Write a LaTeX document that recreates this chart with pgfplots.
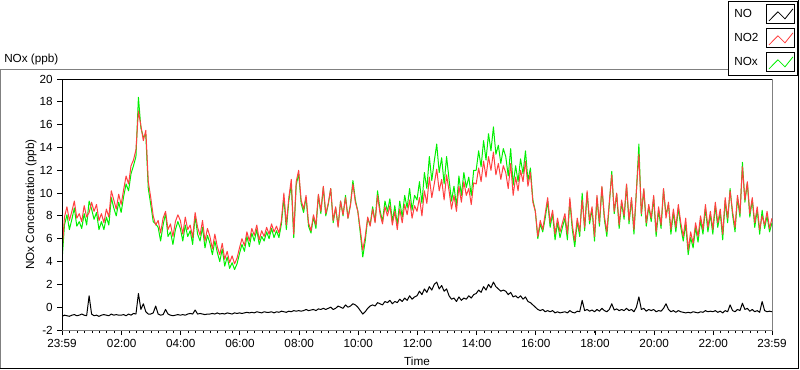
\documentclass[border=0pt]{standalone}
\usepackage{fontspec}
\setmainfont{Liberation Sans}
\usepackage{pgfplots}
\pgfplotsset{compat=1.18}
\usepackage{pgfplotstable}
\definecolor{nored}{RGB}{255,64,64}
\definecolor{nogreen}{RGB}{0,240,0}
\definecolor{framegray}{RGB}{128,128,128}
\pgfplotstableread{
t NO NO2 NOx
0 -0.8 4.8 4.0
5 -0.7 7.9 7.2
10 -0.75 8.8 8.1
15 -0.8 7.6 6.8
20 -0.7 8.4 7.7
25 -0.65 9.3 8.7
30 -0.75 7.8 7.1
35 -0.7 8.2 7.5
40 -0.6 7.5 6.9
45 -0.7 8.9 8.2
50 -0.75 7.9 7.2
55 1.0 8.3 9.3
60 -0.6 9.2 8.6
65 -0.75 8.4 7.7
70 -0.7 9.0 8.3
75 -0.8 7.6 6.8
80 -0.7 8.2 7.5
85 -0.65 7.4 6.8
90 -0.7 8.6 7.9
95 -0.75 7.9 7.2
100 -0.6 10.2 9.6
105 -0.7 9.4 8.7
110 -0.65 8.6 8.0
115 -0.7 9.9 9.2
120 -0.7 9.0 8.3
125 -0.65 10.3 9.7
130 -0.75 11.5 10.8
135 -0.6 10.8 10.2
140 -0.7 12.4 11.7
145 -0.55 12.9 12.4
150 -0.6 13.8 13.2
155 1.2 17.2 18.4
160 -0.2 15.9 15.7
165 0.3 14.6 14.9
170 -0.4 15.5 15.1
175 -0.6 11.0 10.4
180 -0.6 9.6 9.0
185 -0.5 8.0 7.5
190 0.1 7.2 7.3
195 -0.6 7.6 7.0
200 -0.7 6.5 5.8
205 -0.65 7.8 7.2
210 -0.2 8.4 8.2
215 -0.6 6.8 6.2
220 -0.7 7.3 6.6
225 -0.75 6.2 5.5
230 -0.7 7.5 6.8
235 -0.65 8.1 7.5
240 -0.7 7.6 6.9
245 -0.65 6.4 5.8
250 -0.7 7.9 7.2
255 -0.6 6.8 6.2
260 -0.55 7.2 6.7
265 -0.6 6.1 5.5
270 -0.25 8.3 8.0
275 -0.6 7.0 6.4
280 -0.55 6.3 5.8
285 -0.6 7.6 7.0
290 -0.65 5.8 5.2
295 -0.6 6.9 6.3
300 -0.6 6.2 5.6
305 -0.55 5.1 4.6
310 -0.6 6.4 5.8
315 -0.5 5.3 4.8
320 -0.6 4.6 4.0
325 -0.55 5.6 5.1
330 -0.6 4.2 3.6
335 -0.5 4.9 4.4
340 -0.55 3.9 3.4
345 -0.6 4.5 3.9
350 -0.5 3.8 3.3
355 -0.55 4.3 3.8
360 -0.5 5.2 4.7
365 -0.55 6.0 5.5
370 -0.5 5.4 4.9
375 -0.45 6.6 6.2
380 -0.5 5.8 5.3
385 -0.45 6.9 6.5
390 -0.5 6.3 5.8
395 -0.4 7.2 6.8
400 -0.45 5.9 5.5
405 -0.5 6.7 6.2
410 -0.4 6.2 5.8
415 -0.45 7.0 6.6
420 -0.45 6.4 6.0
425 -0.4 7.3 6.9
430 -0.5 6.6 6.1
435 -0.4 7.1 6.7
440 -0.45 6.5 6.1
445 -0.35 7.6 7.3
450 -0.4 10.0 9.6
455 -0.45 7.2 6.8
460 -0.35 9.6 9.3
465 -0.4 11.2 10.8
470 -0.3 6.4 6.1
475 -0.35 11.0 10.7
480 -0.3 12.0 11.7
485 -0.35 9.4 9.1
490 -0.3 8.6 8.3
495 -0.2 9.8 9.6
500 -0.3 7.4 7.1
505 -0.25 6.7 6.5
510 -0.2 8.1 7.9
515 -0.3 7.2 6.9
520 -0.15 9.9 9.8
525 -0.2 8.4 8.2
530 -0.1 10.6 10.5
535 -0.2 8.2 8.0
540 -0.1 9.1 9.0
545 0.0 10.4 10.4
550 -0.2 7.6 7.4
555 -0.1 8.8 8.7
560 0.1 7.0 7.1
565 0.0 9.3 9.3
570 -0.1 8.1 8.0
575 0.2 9.6 9.8
580 0.0 7.8 7.8
585 0.1 8.9 9.0
590 0.3 10.8 11.1
595 0.2 9.2 9.4
600 0.0 8.4 8.4
605 -0.3 6.8 6.5
610 -0.6 5.0 4.4
615 -0.4 6.2 5.8
620 -0.1 7.9 7.8
625 0.1 7.1 7.2
630 0.2 8.6 8.8
635 0.1 7.4 7.5
640 0.4 9.8 10.2
645 0.3 8.2 8.5
650 0.2 7.3 7.5
655 0.5 8.8 9.3
660 0.4 8.0 8.4
665 0.6 8.9 9.5
670 0.3 7.2 7.5
675 0.5 8.4 8.9
680 0.4 6.8 7.2
685 0.7 8.6 9.3
690 0.5 7.4 7.9
695 0.8 9.0 9.8
700 0.6 8.1 8.7
705 1.0 9.4 10.4
710 0.7 7.8 8.5
715 0.9 8.9 9.8
720 1.0 8.4 9.4
725 1.4 9.6 11.0
730 1.1 8.0 9.1
735 1.6 10.2 11.8
740 1.3 9.1 10.4
745 1.8 11.4 13.2
750 1.5 9.6 11.1
755 2.0 10.8 12.8
760 2.2 12.1 14.3
765 1.6 10.2 11.8
770 1.9 11.2 13.1
775 1.4 9.4 10.8
780 1.6 11.6 13.2
785 1.0 10.2 11.2
790 0.7 8.6 9.3
795 0.8 9.8 10.6
800 0.5 8.4 8.9
805 0.9 10.6 11.5
810 0.6 9.2 9.8
815 0.8 11.0 11.8
820 0.7 9.8 10.5
825 1.0 10.4 11.4
830 0.8 9.0 9.8
835 1.1 10.9 12.0
840 1.2 10.8 12.0
845 1.5 12.2 13.7
850 1.3 11.0 12.3
855 1.8 12.8 14.6
860 1.5 11.4 12.9
865 2.0 13.2 15.2
870 1.7 12.0 13.7
875 2.2 13.6 15.8
880 1.8 11.6 13.4
885 1.6 12.6 14.2
890 1.4 11.2 12.6
895 1.5 12.4 13.9
900 1.4 11.8 13.2
905 1.1 10.4 11.5
910 1.3 12.6 13.9
915 0.9 9.8 10.7
920 1.0 11.4 12.4
925 0.8 10.2 11.0
930 1.0 12.0 13.0
935 0.7 11.0 11.7
940 0.9 12.8 13.7
945 0.5 10.6 11.1
950 0.4 11.8 12.2
955 0.2 9.2 9.4
960 0.0 8.4 8.4
965 -0.2 6.2 6.0
970 -0.3 7.6 7.3
975 -0.2 6.8 6.6
980 -0.4 8.2 7.8
985 -0.3 9.6 9.3
990 -0.4 7.4 7.0
995 -0.3 8.5 8.2
1000 -0.5 6.4 5.9
1005 -0.4 7.8 7.4
1010 -0.5 6.6 6.1
1015 -0.45 7.4 7.0
1020 -0.4 8.2 7.8
1025 -0.5 6.4 5.9
1030 -0.3 9.6 9.3
1035 -0.45 7.2 6.8
1040 -0.5 5.8 5.3
1045 -0.35 7.8 7.5
1050 -0.4 6.6 6.2
1055 0.6 9.4 10.0
1060 -0.3 7.0 6.7
1065 -0.2 10.2 10.0
1070 -0.35 7.6 7.3
1075 -0.25 8.8 8.6
1080 -0.4 6.2 5.8
1085 -0.2 9.8 9.6
1090 -0.35 7.4 7.1
1095 -0.1 10.6 10.5
1100 -0.3 8.0 7.7
1105 -0.4 6.6 6.2
1110 -0.2 9.2 9.0
1115 0.3 11.6 11.9
1120 -0.25 8.4 8.2
1125 -0.15 10.0 9.9
1130 -0.3 7.2 6.9
1135 -0.2 9.4 9.2
1140 -0.3 8.0 7.7
1145 -0.1 10.8 10.7
1150 -0.3 7.6 7.3
1155 -0.2 9.6 9.4
1160 -0.4 6.8 6.4
1165 0.0 10.2 10.2
1170 0.9 13.4 14.3
1175 -0.2 8.2 8.0
1180 -0.1 10.4 10.3
1185 -0.35 7.4 7.1
1190 -0.2 9.0 8.8
1195 -0.3 7.8 7.5
1200 -0.2 9.8 9.6
1205 -0.4 6.6 6.2
1210 -0.3 8.8 8.5
1215 -0.35 7.2 6.9
1220 -0.1 10.4 10.3
1225 0.3 7.8 8.1
1230 -0.2 9.2 9.0
1235 -0.4 6.8 6.4
1240 -0.3 8.6 8.3
1245 -0.45 7.0 6.6
1250 -0.3 9.0 8.7
1255 -0.4 7.4 7.0
1260 -0.45 6.2 5.8
1265 -0.5 7.8 7.3
1270 -0.45 5.0 4.6
1275 -0.5 6.6 6.1
1280 -0.4 5.6 5.2
1285 -0.45 7.4 7.0
1290 -0.5 6.2 5.7
1295 -0.4 8.0 7.6
1300 -0.45 6.8 6.4
1305 -0.3 9.0 8.7
1310 -0.4 7.0 6.6
1315 -0.35 8.4 8.1
1320 -0.4 6.8 6.4
1325 -0.3 9.2 8.9
1330 -0.45 7.4 7.0
1335 -0.35 8.6 8.3
1340 -0.5 6.4 5.9
1345 -0.3 9.6 9.3
1350 -0.4 7.8 7.4
1355 0.2 10.2 10.4
1360 -0.3 8.4 8.1
1365 -0.4 7.0 6.6
1370 -0.2 9.8 9.6
1375 -0.3 8.2 7.9
1380 0.35 12.3 12.7
1385 -0.2 9.4 9.2
1390 -0.1 11.0 10.9
1395 -0.35 8.2 7.9
1400 -0.2 9.6 9.4
1405 -0.4 7.4 7.0
1410 -0.3 8.8 8.5
1415 -0.45 6.8 6.4
1420 0.5 8.0 8.5
1425 -0.3 7.2 6.9
1430 -0.4 8.4 8.0
1435 -0.35 6.9 6.6
1440 -0.4 7.8 7.4
}\datatable
\begin{document}
\begin{tikzpicture}[x=0.75pt,y=0.75pt,font=\fontsize{8.8}{10.5}\selectfont]
\useasboundingbox (0,0) rectangle (800,369);
\draw[framegray,line width=0.75pt] (0.5,0) -- (0.5,299.5) -- (730,299.5);
\draw[black,line width=0.75pt] (0,1) -- (798.5,1) -- (798.5,369);
\node[anchor=west,inner sep=0pt] at (4,310) {NOx (ppb)};
\begin{axis}[
  at={(46.5pt,29.25pt)}, anchor=south west,
  scale only axis, width=532.5pt, height=188.25pt,
  xmin=0, xmax=1440, ymin=-2, ymax=20,
  axis line style={framegray, line width=0.75pt},
  xtick={0,121,241,361,481,601,721,841,961,1081,1201,1321,1440},
  xticklabels={23:59,02:00,04:00,06:00,08:00,10:00,12:00,14:00,16:00,18:00,20:00,22:00,23:59},
  minor xtick={1,16,...,1426},
  ytick={-2,0,...,20},
  yticklabels={-2,0,2,4,6,8,10,12,14,16,18,20},
  xtick pos=bottom, ytick pos=left, tick align=outside,
  major tick length=3.75pt, minor tick length=2.25pt,
  tick style={black, line width=0.75pt},
  tick label style={font=\fontsize{8.8}{10.5}\selectfont},
  yticklabel style={inner sep=0pt, xshift=-3pt},
  xticklabel style={inner sep=0pt, yshift=-3pt},
  xlabel={Time}, ylabel={NOx Concentration (ppb)},
  label style={font=\fontsize{8.8}{10.5}\selectfont},
  xlabel style={at={(axis description cs:0.5,-0.1235)}, anchor=center},
  ylabel style={at={(axis description cs:-0.0437,0.5)}, anchor=center},
  legend style={at={(1.0373,1.3127)}, anchor=north east, draw=black, line width=0.75pt,
    fill=white, inner xsep=0pt, inner ysep=2.5pt, column sep=6pt, row sep=3pt,
    nodes={inner sep=0pt}, cells={anchor=west}, font=\fontsize{8.8}{10.5}\selectfont},
  legend plot pos=right,
  legend image code/.code={
    \draw[black,line width=0.75pt] (0pt,-7.125pt) rectangle (21pt,7.125pt);
    \draw[#1,line width=0.6pt] (1.5pt,-4.9pt) -- (8.25pt,1.9pt) -- (13.5pt,-3.4pt) -- (19.5pt,4.1pt);
    \path (22.9pt,0pt);
  },
]
\addlegendimage{black, line width=0.75pt}
\addlegendentry{\hspace*{4.5pt}NO}
\addlegendimage{nored, line width=0.75pt}
\addlegendentry{\hspace*{4.5pt}NO2}
\addlegendimage{nogreen, line width=0.75pt}
\addlegendentry{\hspace*{4.5pt}NOx}
\addplot[black, line width=0.75pt, mark=none, line join=round, forget plot] table[x=t,y=NO]{\datatable};
\addplot[nogreen, line width=0.75pt, mark=none, line join=round, forget plot] table[x=t,y=NOx]{\datatable};
\addplot[nored, line width=0.75pt, mark=none, line join=round, forget plot] table[x=t,y=NO2]{\datatable};
\draw[black,line width=0.75pt] (rel axis cs:0,0) -- (rel axis cs:0,1) -- (rel axis cs:1,1);
\end{axis}
\end{tikzpicture}
\end{document}
